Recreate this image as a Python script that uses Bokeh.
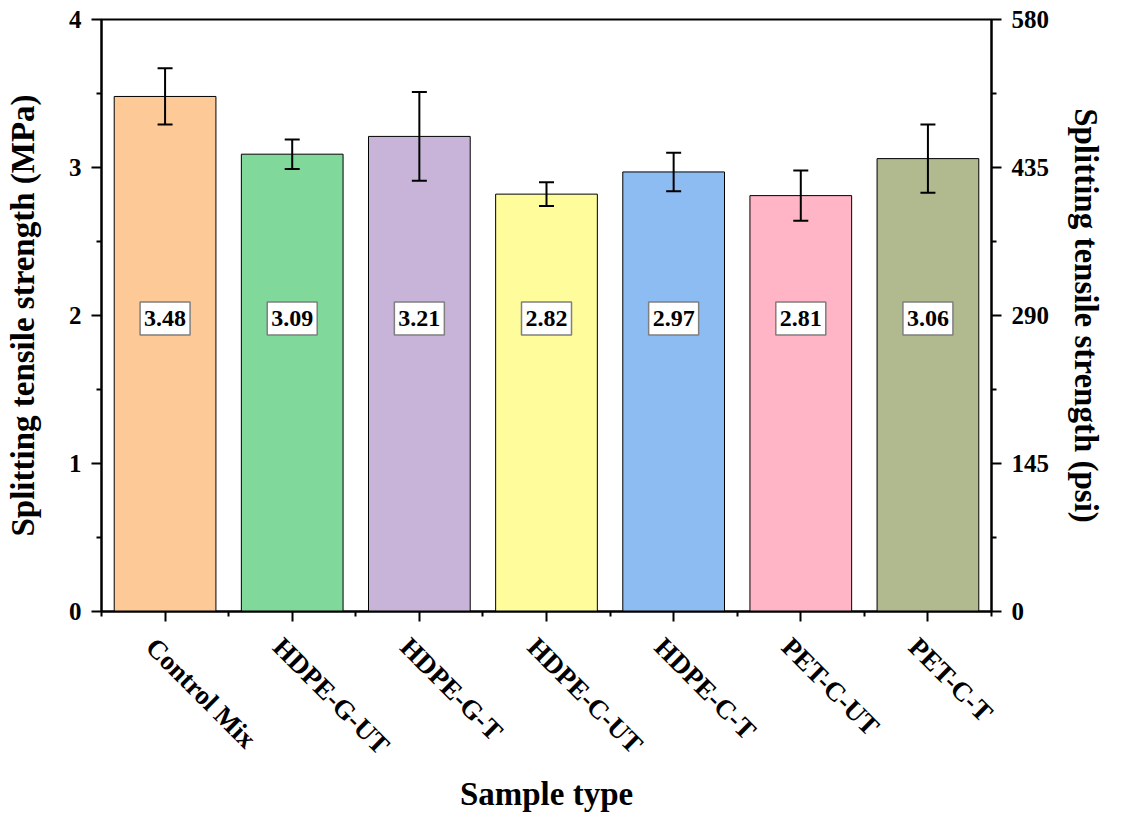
import math
from bokeh.plotting import figure
from bokeh.models import (ColumnDataSource, Range1d, LinearAxis, FixedTicker,
                          Whisker, TeeHead)
from bokeh.core.properties import value
from bokeh.embed import file_html
from bokeh.resources import INLINE

# ---- data ----
categories = ["Control Mix", "HDPE-G-UT", "HDPE-G-T", "HDPE-C-UT",
              "HDPE-C-T", "PET-C-UT", "PET-C-T"]
strength_mpa = [3.48, 3.09, 3.21, 2.82, 2.97, 2.81, 3.06]
error_mpa = [0.19, 0.10, 0.30, 0.08, 0.13, 0.17, 0.23]
bar_colors = ["#FDC996", "#80D99B", "#C8B4D8", "#FFFD9B",
              "#8DBCF3", "#FFB5C5", "#B1B98F"]
left_ticks = [0, 1, 2, 3, 4]
right_ticks = [0, 145, 290, 435, 580]

FONT = "Liberation Serif"
LABEL_Y = 1.98
LABEL_SHIFT = 0.114   # category-label axis shifted slightly left (in category units)

n = len(categories)
xs = list(range(n))
src = ColumnDataSource(dict(
    x=xs,
    top=strength_mpa,
    color=bar_colors,
    upper=[v + e for v, e in zip(strength_mpa, error_mpa)],
    lower=[v - e for v, e in zip(strength_mpa, error_mpa)],
    label=[f"{v:.2f}" for v in strength_mpa],
))

p = figure(width=1107, height=814,
           x_range=Range1d(-0.5, n - 0.5),
           y_range=Range1d(0, 4),
           output_backend="svg", toolbar_location=None,
           min_border_left=101, min_border_right=116,
           min_border_top=19, min_border_bottom=202)

p.xgrid.visible = False
p.ygrid.visible = False
p.outline_line_color = "black"
p.outline_line_width = 2
p.background_fill_color = "white"
p.border_fill_color = "white"

p.vbar(x="x", top="top", width=0.8, fill_color="color",
       line_color="black", line_width=1, source=src)

whisk = Whisker(base="x", upper="upper", lower="lower", source=src,
                line_color="black", line_width=2, level="annotation",
                upper_head=TeeHead(size=15, line_width=2, line_color="black"),
                lower_head=TeeHead(size=15, line_width=2, line_color="black"))
p.add_layout(whisk)

p.rect(x="x", y=LABEL_Y, width=50, height=33, width_units="screen",
       height_units="screen", fill_color="white", line_color="#7f7f7f",
       line_width=1.5, source=src)
p.text(x="x", y=LABEL_Y, text="label", text_font=value(FONT),
       text_font_style="bold", text_font_size="24px", text_align="center",
       text_baseline="middle", text_color="black", source=src)

# x axis with ticks only
xa = p.xaxis[0]
xa.ticker = FixedTicker(ticks=xs, minor_ticks=[i - 0.5 for i in range(n + 1)])
xa.major_label_overrides = {i: "" for i in xs}

# second (outer) x axis carrying the rotated category names and the title
p.extra_x_ranges = {"lab": Range1d(-0.5 + LABEL_SHIFT, n - 0.5 + LABEL_SHIFT)}
la = LinearAxis(x_range_name="lab",
                ticker=FixedTicker(ticks=xs, minor_ticks=[]),
                axis_label="Sample type")
la.major_label_overrides = {i: c for i, c in enumerate(categories)}
la.major_label_orientation = -math.pi / 4
p.add_layout(la, "below")

# left axis
ya = p.yaxis[0]
ya.ticker = FixedTicker(ticks=left_ticks, minor_ticks=[t + 0.5 for t in left_ticks[:-1]])
ya.axis_label = "Splitting tensile strength (MPa)"
ya.axis_label_standoff = 25
ya.major_label_orientation = "horizontal"

# right axis
p.extra_y_ranges = {"psi": Range1d(0, 580)}
ra = LinearAxis(y_range_name="psi",
                ticker=FixedTicker(ticks=right_ticks,
                                   minor_ticks=[t + 72.5 for t in right_ticks[:-1]]),
                axis_label="Splitting tensile strength (psi)")
ra.axis_label_standoff = 16
ra.major_label_orientation = "horizontal"
p.add_layout(ra, "right")

for ax in [xa, ya, ra, la]:
    ax.axis_line_width = 2
    ax.axis_line_color = "black"
    ax.major_tick_line_width = 2
    ax.minor_tick_line_width = 2
    ax.major_tick_line_color = "black"
    ax.minor_tick_line_color = "black"
    ax.major_tick_out = 10
    ax.major_tick_in = 0
    ax.minor_tick_out = 5
    ax.minor_tick_in = 0
    ax.major_label_text_font = FONT
    ax.major_label_text_font_style = "bold"
    ax.major_label_text_color = "black"
    ax.major_label_text_font_size = "25px"
    ax.major_label_standoff = 10
    ax.axis_label_text_font = FONT
    ax.axis_label_text_font_style = "bold"
    ax.axis_label_text_font_size = "33px"
    ax.axis_label_text_color = "black"

xa.major_label_text_font_size = "1px"
xa.major_label_standoff = 0

la.axis_line_color = None
la.major_tick_line_color = None
la.minor_tick_line_color = None
la.major_tick_out = 0
la.minor_tick_out = 0
la.major_label_text_font_size = "27px"
la.major_label_standoff = 21
la.axis_label_standoff = 2

open("out.html", "w").write(file_html(p, INLINE))
